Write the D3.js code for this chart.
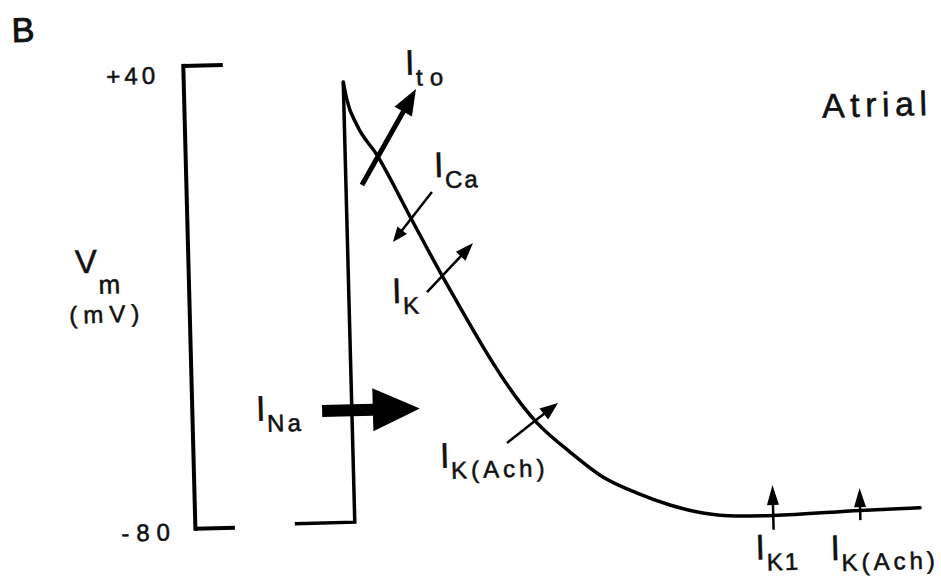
<!DOCTYPE html>
<html>
<head>
<meta charset="utf-8">
<script src="https://cdn.jsdelivr.net/npm/d3@7"></script>
<style>
  body { margin: 0; background: #fff; }
  svg { display: block; background: #fff; }
  text { font-family: "Liberation Sans", Arial, Helvetica, sans-serif; fill: #111; stroke: #111; stroke-width: 0.55px; }
</style>
</head>
<body>
<svg id="chart" width="941" height="578"></svg>
<script>
// ---------------- data ----------------
// Atrial action potential: time (arbitrary ms-like units) and membrane potential (mV)
const traceTime = [-24, 0, 0, 1.3, 5.0, 12.7, 26.0, 37.8, 73.9, 86.8, 99.7, 113.2, 126.2, 139.3, 152.9, 167.3, 202.2, 226.2];
const traceVm   = [-79.5, -79.5, 34.6, 29.9, 23.4, 15.5, -1.6, -16.6, -55.0, -62.8, -69.5, -73.9, -77.2, -79.5, -80.5, -80.6, -79.9, -79.6];
const upstrokeEnd = 2; // index of the peak (end of the straight upstroke)

// ionic currents: subscript names and arrow tail/tip (time, mV)
const currentNames    = ["to", "Ca", "K", "K(Ach)", "Na", "K1", "K(Ach)"];
const currentTailTime = [6.4, 34.3, 31.3, 61.7, -11.9, 167.4, 202.2];
const currentTailVm   = [7.8, 5.5, -20.4, -60.0, -50.5, -84.3, -82.4];
const currentTipTime  = [29.0, 18.2, 50.2, 82.5, 27.2, 167.4, 202.2];
const currentTipVm    = [32.3, -7.2, -8.0, -50.0, -50.5, -72.7, -74.1];

// scale bar ticks and labels
const yTicks = [40, -80];
const panelLabel = "B";
const yLabelMain = "V", yLabelSub = "m", yLabelUnit = "(mV)";
const cellType = "Atrial";

// ---------------- layout / styles ----------------
const arrowStyles = [
  { w: 5,   head: 26, hw: 10 },
  { w: 2.5, head: 15, hw: 6 },
  { w: 2.5, head: 18, hw: 6.5 },
  { w: 2.5, head: 18, hw: 7 },
  { w: 12,  head: 47, hw: 21.5, block: true },
  { w: 2.5, head: 20, hw: 6 },
  { w: 2.5, head: 19, hw: 6 }
];
const labelLayout = [
  { at: "tip",  dx: -10.6, dy: -14.2, ls: 7 },
  { at: "tail", dx: 2.4,   dy: -14.8, ls: 2 },
  { at: "tail", dx: -35.3, dy: 10.1,  ls: 3 },
  { at: "tail", dx: -67.6, dy: 23.3,  ls: 4 },
  { at: "tail", dx: -66.3, dy: 8.3,   ls: 3 },
  { at: "tail", dx: -18.8, dy: 29.5,  ls: 2 },
  { at: "tail", dx: -31,   dy: 39.3,  ls: 4 }
];

const svg = d3.select("#chart");
// the whole scanned figure is slightly tilted
const g = svg.append("g").attr("transform", "rotate(-1.5,470,300)");

const x = d3.scaleLinear().domain([-24, 226]).range([289, 914]);
const y = d3.scaleLinear().domain([-80, 40]).range([521, 58]);

// ---- scale bar (bracket) as an axis ----
const axis = d3.axisLeft(y)
  .tickValues(yTicks)
  .tickSizeInner(-40)
  .tickSizeOuter(0)
  .tickPadding(24)
  .tickFormat(d => d > 0 ? "+" + d : String(d));
const ag = g.append("g").attr("transform", "translate(189,0)").call(axis);
ag.select(".domain").attr("stroke", "#000").attr("stroke-width", 4).attr("stroke-linecap", "square");
ag.selectAll(".tick line").attr("stroke", "#000").attr("stroke-width", 4);
ag.selectAll(".tick text")
  .attr("font-size", 24)
  .attr("letter-spacing", d => d > 0 ? 4 : 7)
  .attr("x", d => d > 0 ? -24 : -18)
  .attr("dy", d => d > 0 ? 17 : 11);

// ---- action potential trace ----
const pts = traceTime.map((t, i) => [x(t), y(traceVm[i])]);
g.append("path")
  .attr("d", d3.line()(pts.slice(0, upstrokeEnd + 1)))
  .attr("fill", "none").attr("stroke", "#000").attr("stroke-width", 3.5)
  .attr("stroke-linejoin", "miter");
g.append("path")
  .attr("d", d3.line().curve(d3.curveMonotoneX)(pts.slice(upstrokeEnd)))
  .attr("fill", "none").attr("stroke", "#000").attr("stroke-width", 3.5)
  .attr("stroke-linecap", "round");

// ---- current arrows and labels ----
currentNames.forEach((name, i) => {
  const p0 = [x(currentTailTime[i]), y(currentTailVm[i])];
  const p1 = [x(currentTipTime[i]), y(currentTipVm[i])];
  const st = arrowStyles[i];
  const dx = p1[0] - p0[0], dy = p1[1] - p0[1];
  const len = Math.hypot(dx, dy);
  const ux = dx / len, uy = dy / len, nx = -uy, ny = ux;
  const bx = p1[0] - ux * st.head, by = p1[1] - uy * st.head;
  if (st.block) {
    const h = st.w / 2;
    const poly = [
      [p0[0] + nx * h, p0[1] + ny * h],
      [bx + nx * h, by + ny * h],
      [bx + nx * st.hw, by + ny * st.hw],
      p1,
      [bx - nx * st.hw, by - ny * st.hw],
      [bx - nx * h, by - ny * h],
      [p0[0] - nx * h, p0[1] - ny * h]
    ];
    g.append("path").attr("d", "M" + poly.join("L") + "Z").attr("fill", "#000");
  } else {
    g.append("line")
      .attr("x1", p0[0]).attr("y1", p0[1])
      .attr("x2", bx + ux * 2).attr("y2", by + uy * 2)
      .attr("stroke", "#000").attr("stroke-width", st.w);
    const tri = [p1, [bx + nx * st.hw, by + ny * st.hw], [bx - nx * st.hw, by - ny * st.hw]];
    g.append("path").attr("d", "M" + tri.join("L") + "Z").attr("fill", "#000");
  }
  const lab = labelLayout[i];
  const a = lab.at === "tip" ? p1 : p0;
  const t = g.append("text").attr("x", a[0] + lab.dx).attr("y", a[1] + lab.dy);
  t.append("tspan").attr("font-size", 36).style("stroke-width", "0.3px").text("I");
  t.append("tspan").attr("font-size", 24).attr("dy", 11).attr("dx", 1)
    .attr("letter-spacing", lab.ls).text(name);
});

// ---- other text ----
g.append("text").attr("x", 19).attr("y", 30).attr("font-size", 34).style("stroke-width", "1px").text(panelLabel);
g.append("text").attr("x", 76).attr("y", 263).attr("font-size", 33).text(yLabelMain);
g.append("text").attr("x", 99).attr("y", 284).attr("font-size", 26).text(yLabelSub);
g.append("text").attr("x", 69).attr("y", 313).attr("font-size", 24).attr("letter-spacing", 6).text(yLabelUnit);
g.append("text").attr("x", 827).attr("y", 127).attr("font-size", 34).attr("letter-spacing", 5.5).text(cellType);
</script>
</body>
</html>
